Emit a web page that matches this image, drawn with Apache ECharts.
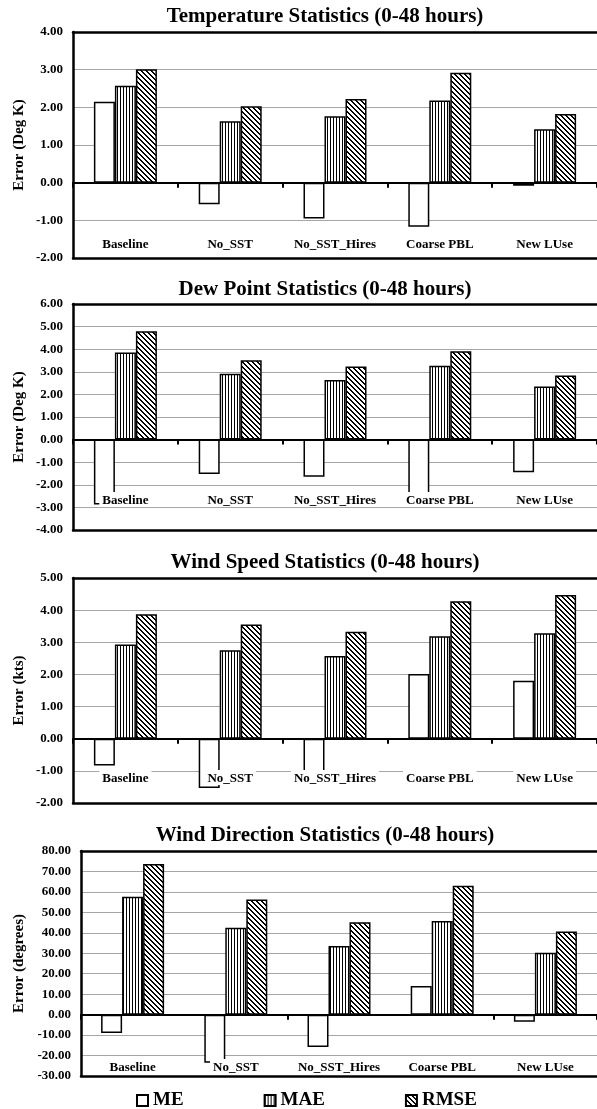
<!DOCTYPE html>
<html>
<head>
<meta charset="utf-8">
<script src="https://cdn.jsdelivr.net/npm/echarts@6/dist/echarts.min.js"></script>
<style>
  html, body { margin: 0; padding: 0; background: #fff; }
  #chart { width: 597px; height: 1109px; }
</style>
</head>
<body>
<div id="chart"></div>
<script>
// categories and values
const categories = ['Baseline', 'No_SST', 'No_SST_Hires', 'Coarse PBL', 'New LUse']
const seriesNames = ['ME', 'MAE', 'RMSE']

const tempME = [2.15, -0.57, -0.95, -1.17, -0.08]
const tempMAE = [2.57, 1.63, 1.76, 2.18, 1.42]
const tempRMSE = [3.01, 2.03, 2.22, 2.92, 1.82]

const dewME = [-2.87, -1.52, -1.64, -2.60, -1.45]
const dewMAE = [3.85, 2.91, 2.64, 3.27, 2.35]
const dewRMSE = [4.79, 3.51, 3.23, 3.91, 2.84]

const wspdME = [-0.83, -1.53, -1.36, 2.01, 1.80]
const wspdMAE = [2.93, 2.75, 2.57, 3.19, 3.28]
const wspdRMSE = [3.87, 3.55, 3.33, 4.28, 4.47]

const wdirME = [-9.0, -23.5, -15.8, 14.0, -3.5]
const wdirMAE = [57.6, 42.5, 33.6, 45.8, 30.2]
const wdirRMSE = [73.6, 56.3, 45.2, 63.0, 40.6]

const panels = [
  { title: 'Temperature Statistics (0-48 hours)', yName: 'Error (Deg K)', values: [tempME, tempMAE, tempRMSE], min: -2, max: 4, interval: 1 },
  { title: 'Dew Point Statistics (0-48 hours)', yName: 'Error (Deg K)', values: [dewME, dewMAE, dewRMSE], min: -4, max: 6, interval: 1 },
  { title: 'Wind Speed Statistics (0-48 hours)', yName: 'Error (kts)', values: [wspdME, wspdMAE, wspdRMSE], min: -2, max: 5, interval: 1 },
  { title: 'Wind Direction Statistics (0-48 hours)', yName: 'Error (degrees)', values: [wdirME, wdirMAE, wdirRMSE], min: -30, max: 80, interval: 10 }
]

// layout of each panel (pixels)
const layout = [
  { left: 73, top: 32, height: 226, titleTop: 1, nameGap: 46, labelMargin: 7 },
  { left: 73, top: 304, height: 226, titleTop: 274, nameGap: 46, labelMargin: 23 },
  { left: 73, top: 578, height: 225, titleTop: 547, nameGap: 46, labelMargin: 18 },
  { left: 81, top: 851, height: 225, titleTop: 820, nameGap: 54, labelMargin: 2 }
]

const FONT = "'Liberation Serif', 'Times New Roman', serif"

// hatch fills
function makeTile(size, isDark) {
  const c = document.createElement('canvas')
  c.width = size
  c.height = size
  const ctx = c.getContext('2d')
  ctx.fillStyle = '#fff'
  ctx.fillRect(0, 0, size, size)
  ctx.fillStyle = '#000'
  for (let x = 0; x < size; x++) {
    for (let y = 0; y < size; y++) {
      if (isDark(x, y)) ctx.fillRect(x, y, 1, 1)
    }
  }
  return c
}
const vertTile = makeTile(3, (x, y) => x === 0)
const diagTile = makeTile(5, (x, y) => ((x - y) % 5 + 5) % 5 < 2)
const fills = ['#fff', { image: vertTile, repeat: 'repeat' }, { image: diagTile, repeat: 'repeat' }]

const titles = []
const grids = []
const xAxes = []
const yAxes = []
const series = []

panels.forEach((p, i) => {
  const l = layout[i]
  titles.push({
    text: p.title,
    left: 320,
    top: l.titleTop,
    textAlign: 'center',
    textStyle: { fontFamily: FONT, fontWeight: 'bold', fontSize: 21, color: '#000' }
  })
  grids.push({ left: l.left, right: 0, top: l.top, height: l.height })
  // zero line with ticks between categories
  xAxes.push({
    type: 'category', gridIndex: i, data: categories, z: 5,
    axisLine: { onZero: true, lineStyle: { color: '#000', width: 2 } },
    axisTick: { show: true, length: 5, lineStyle: { color: '#000', width: 2 } },
    axisLabel: { show: false }
  })
  // bottom frame + category labels inside the plot
  xAxes.push({
    type: 'category', gridIndex: i, data: categories, position: 'bottom', z: 10,
    axisLine: { onZero: false, lineStyle: { color: '#000', width: 2.5 } },
    axisTick: { show: false },
    axisLabel: {
      inside: true, margin: l.labelMargin, interval: 0,
      fontFamily: FONT, fontWeight: 'bold', fontSize: 13, color: '#000',
      backgroundColor: '#fff', padding: [2, 3, 0, 3]
    }
  })
  // top frame
  xAxes.push({
    type: 'category', gridIndex: i, data: categories, position: 'top',
    axisLine: { onZero: false, lineStyle: { color: '#000', width: 2.5 } },
    axisTick: { show: false },
    axisLabel: { show: false }
  })
  yAxes.push({
    type: 'value', gridIndex: i, min: p.min, max: p.max, interval: p.interval,
    name: p.yName, nameLocation: 'middle', nameGap: l.nameGap, nameMoveOverlap: false,
    nameTextStyle: { fontFamily: FONT, fontWeight: 'bold', fontSize: 15, color: '#000' },
    axisLine: { show: true, onZero: false, lineStyle: { color: '#000', width: 2.5 } },
    axisTick: { show: false },
    axisLabel: {
      margin: 10, fontFamily: FONT, fontWeight: 'bold', fontSize: 13, color: '#000',
      formatter: v => v.toFixed(2)
    },
    splitLine: { show: true, lineStyle: { color: '#a6a6a6', width: 1 } }
  })
  seriesNames.forEach((name, k) => {
    series.push({
      name: name,
      type: 'bar',
      xAxisIndex: i * 3,
      yAxisIndex: i,
      data: p.values[k],
      barWidth: 21,
      barGap: '0%',
      itemStyle: { color: fills[k], borderColor: '#000', borderWidth: 1.5 },
      emphasis: { disabled: true }
    })
  })
})

const myChart = echarts.init(document.getElementById('chart'))
const option = {
  animation: false,
  title: titles,
  legend: {
    data: seriesNames,
    left: 131,
    top: 1086,
    itemWidth: 11,
    itemHeight: 11,
    itemGap: 80,
    icon: 'rect',
    textStyle: { fontFamily: FONT, fontWeight: 'bold', fontSize: 19, color: '#000' }
  },
  grid: grids,
  xAxis: xAxes,
  yAxis: yAxes,
  series: series
}
myChart.setOption(option)
</script>
</body>
</html>
